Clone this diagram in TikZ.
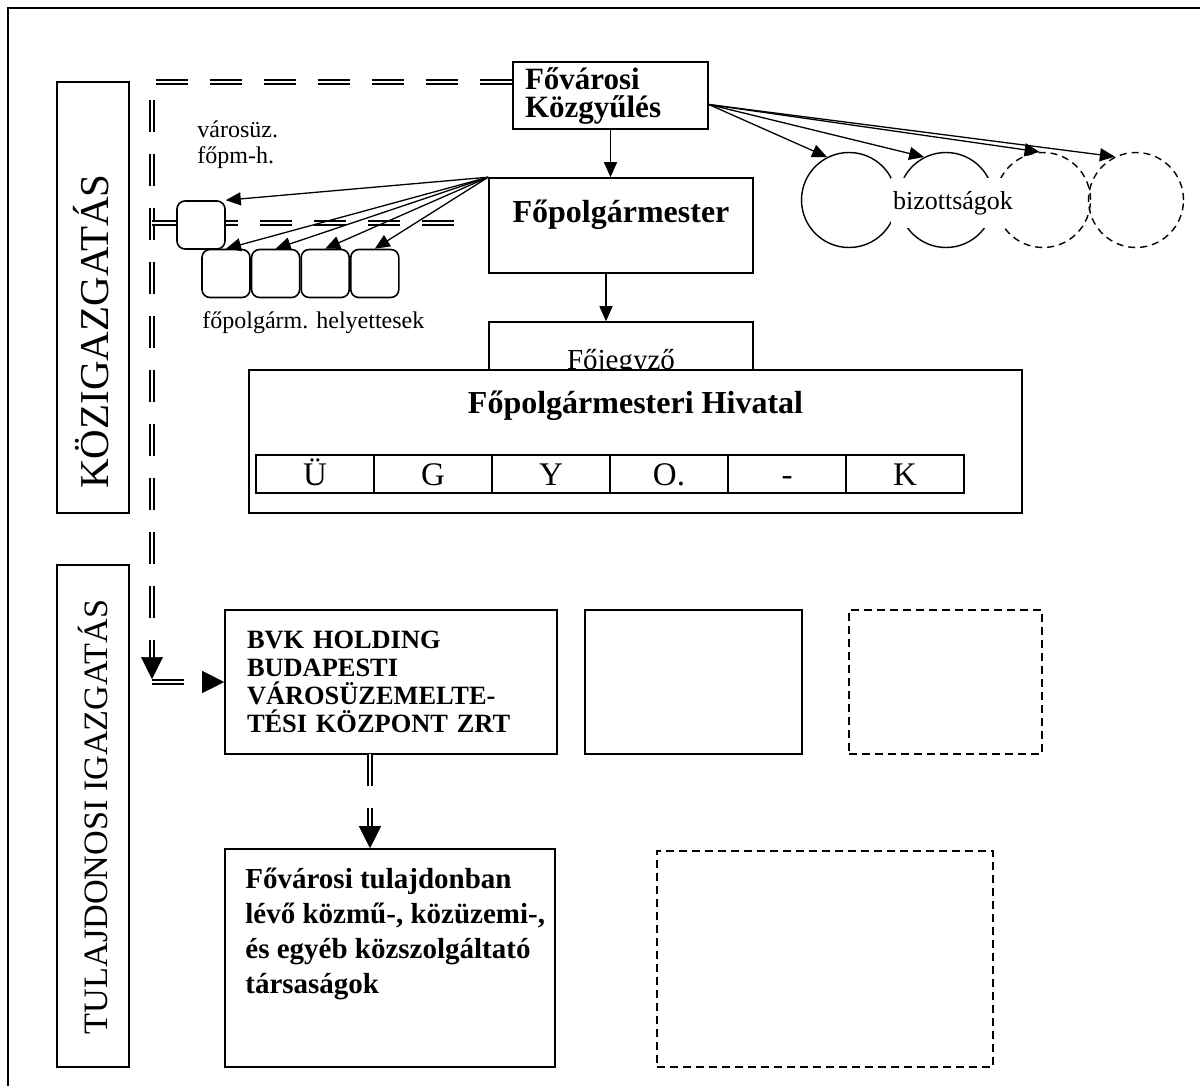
\documentclass[tikz,border=0pt]{standalone}
\usepackage{fontspec}
\setmainfont{Liberation Serif}
\usepackage{tikz}
\usetikzlibrary{arrows.meta, positioning, calc}
\newcommand{\orghead}{\fontsize{16}{17}\selectfont\bfseries}
\newcommand{\orgtop}{\fontsize{15.5}{14}\selectfont\bfseries}
\newcommand{\orgcomp}{\fontsize{14.5}{17.5}\selectfont\bfseries}
\newcommand{\orgbvk}{\fontsize{13.2}{14}\selectfont\bfseries}
\newcommand{\orgclerk}{\fontsize{14.5}{16}\selectfont}
\newcommand{\orgcell}{\fontsize{16.5}{18}\selectfont}
\newcommand{\orgsmall}{\fontsize{12}{13}\selectfont}
\newcommand{\orgcomm}{\fontsize{13}{15}\selectfont}
\tikzset{
  box/.style={draw, line width=0.8pt, fill=white, inner sep=0pt},
  dashbox/.style={box, dash pattern=on 4pt off 2.5pt},
  smallbox/.style={box, rounded corners=4pt, minimum size=24pt},
  cell/.style={box, minimum width=59pt, text height=15pt, text depth=4pt,
               font=\orgcell},
  comm/.style={circle, draw, line width=0.7pt, minimum size=47.5pt, inner sep=0pt},
  arrow/.style={-{Triangle[length=7.5pt, width=6.5pt]}, line width=0.65pt},
  dline/.style={double, double distance=1.4pt, line width=1pt,
                dash pattern=on 16pt off 11pt},
  dtip/.style={draw=white, line width=0.3pt,
               -{Triangle[length=11pt, width=11pt, color=black]}},
  sidelabel/.style={rotate=90, anchor=base, inner sep=0pt},
}
\begin{document}
\begin{tikzpicture}[x=0.5pt, y=-0.5pt]
  \useasboundingbox (0,0) rectangle (1200,1086);
  \clip (0,0) rectangle (1200,1086);
  \draw[line width=0.8pt] (8,8) rectangle (1210,1096);

  % --- side labels ---
  \node[box, minimum width=36pt, minimum height=215.5pt] (kozig) at (93,297.5) {};
  \node[sidelabel, font=\fontsize{20.5}{21}\selectfont] (koziglbl) at (108,331.5)
    {KÖZIGAZGATÁS};
  \node[box, minimum width=36pt, minimum height=251pt] (tul) at (93,816) {};
  \node[sidelabel, font=\fontsize{17.1}{18}\selectfont] (tullbl) at (107,817)
    {TULAJDONOSI IGAZGATÁS};

  % --- assembly, mayor, clerk ---
  \node[box, minimum width=97.5pt, minimum height=33.5pt, text width=85.5pt,
        inner xsep=6pt, align=left, font=\orgtop]
    (kozgy) at (610.5,95.5) {Fővárosi\\Közgyűlés};
  \node[box, minimum width=132pt, text height=22pt, text depth=25.5pt,
        font=\orghead]
    (fopm) at (621,225.5) {Főpolgármester};
  \node[box, minimum width=132pt, text height=23.5pt, text depth=10pt,
        font=\orgclerk]
    (fojegy) at (621,355.5) {Főjegyző};
  \node[box, minimum width=386.5pt, text height=21.5pt, text depth=50pt,
        font=\orghead]
    (hivatal) at (635.5,441.5) {Főpolgármesteri Hivatal};
  \foreach \t [count=\i] in {Ü,G,Y,O.,-,K}
    \node[cell] (cell\i) at ({197+118*\i},474) {\t};

  % --- committees ---
  \node[comm] (c1) at (849,200) {};
  \node[comm] (c2) at (946,200) {};
  \node[comm, dash pattern=on 3.5pt off 2.5pt] (c3) at (1043,200) {};
  \node[comm, dash pattern=on 3.5pt off 2.5pt] (c4) at (1136,200) {};
  \node[fill=white, inner xsep=1pt, minimum height=25pt, font=\orgcomm]
    (biz) at (953,203) {bizottságok};

  % --- companies ---
  \node[box, minimum width=166pt, minimum height=72pt, text width=144pt,
        inner xsep=11pt, align=left, font=\orgbvk]
    (bvk) at (391,682) {BVK HOLDING\\BUDAPESTI\\VÁROSÜZEMELTE-\\TÉSI KÖZPONT ZRT};
  \node[box, minimum width=108.5pt, minimum height=72pt] (ceg2) at (693.5,682) {};
  \node[dashbox, minimum width=96.5pt, minimum height=72pt] (ceg3) at (945.5,682) {};
  \node[box, minimum width=165pt, minimum height=109pt] (tarsas) at (390,958) {};
  \node[anchor=north west, inner sep=0pt, align=left, font=\orgcomp]
    (tarsaslbl) at (245,868)
    {Fővárosi tulajdonban\\lévő közmű-, közüzemi-,\\és egyéb közszolgáltató\\társaságok};
  \node[dashbox, minimum width=168pt, minimum height=108pt] (ceg4) at (825,959) {};

  % --- ownership lines ---
  \coordinate (tl) at (152,82);
  \coordinate (br) at (152,223);
  \coordinate (brend) at (465,223);
  \coordinate (dn) at (152,679);
  \coordinate (bvkout) at (370,754);
  \draw[dline, shorten >=8pt] (kozgy.west |- tl) -- (tl) -- (dn);
  \draw[dtip] (tl) -- (dn);
  \draw[dline] (br) -- (brend);
  \draw[dline, shorten >=8pt] (dn |- bvk.west) -- (bvk.west);
  \draw[dtip] (dn |- bvk.west) -- (bvk.west);
  \draw[dline, shorten >=8pt] (bvkout) -- (bvkout |- tarsas.north);
  \draw[dtip] (bvkout) -- (bvkout |- tarsas.north);

  % --- deputies ---
  \node[smallbox] (varos) at (201,225) {};
  \node[smallbox] (h1) at (226,273.5) {};
  \node[smallbox, right=0pt of h1] (h2) {};
  \node[smallbox, right=0pt of h2] (h3) {};
  \node[smallbox, right=0pt of h3] (h4) {};
  \node[anchor=west, inner sep=0pt, align=left, font=\orgsmall]
    (varoslbl) at (197,145) {városüz.\\főpm-h.};
  \node[anchor=west, inner sep=0pt, font=\orgsmall]
    (helylbl) at (202,323) {főpolgárm. helyettesek};

  % --- arrows ---
  \coordinate (kgout) at ([yshift=-4.5pt]kozgy.east);
  \draw[arrow] (kgout) -- (c1.117);
  \draw[arrow] (kgout) -- (c2.117);
  \draw[arrow] (kgout) -- (c3.94);
  \draw[arrow] (kgout) -- (c4.116);
  \draw[arrow] (kozgy.south) -- (kozgy.south |- fopm.north);
  \draw[arrow] ([xshift=-7.5pt]fopm.south) -- ([xshift=-7.5pt]fopm.south |- fojegy.north);
  \draw[arrow] (fopm.north west) -- (varos.north east);
  \foreach \n in {1,...,4}
    \draw[arrow] (fopm.north west) -- (h\n.north);

\end{tikzpicture}
\end{document}
